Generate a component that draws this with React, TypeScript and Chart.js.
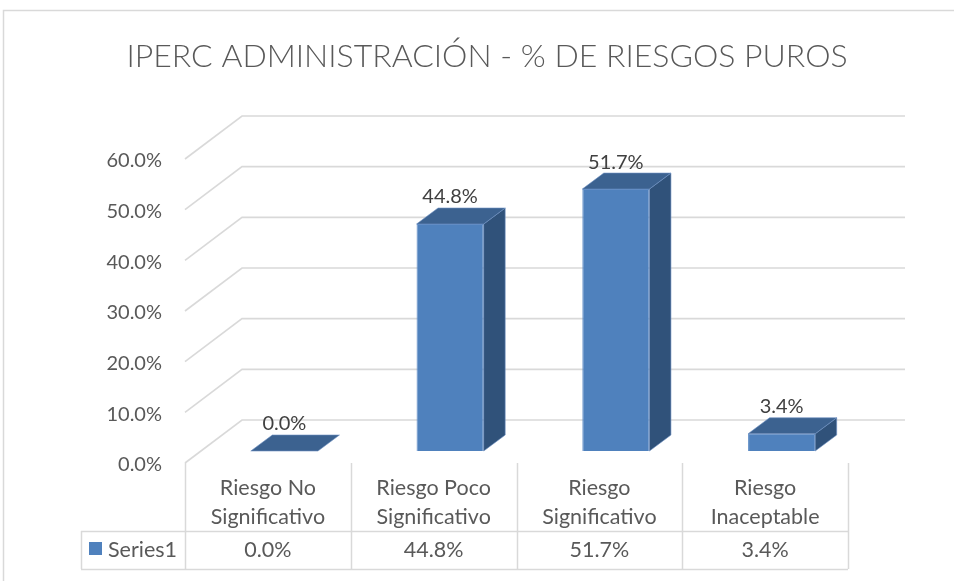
import React, { useEffect, useRef } from "react";
import { Chart, registerables } from "chart.js";

Chart.register(...registerables);

const titleText = "IPERC ADMINISTRACIÓN - % DE RIESGOS PUROS";
const categories: string[][] = [
  ["Riesgo No", "Significativo"],
  ["Riesgo Poco", "Significativo"],
  ["Riesgo", "Significativo"],
  ["Riesgo", "Inaceptable"],
];
const seriesName = "Series1";
const values = [0.0, 44.8, 51.7, 3.4];
const yTicks = [0, 10, 20, 30, 40, 50, 60];

const FONT = "Lato, 'Open Sans', 'DejaVu Sans', sans-serif";
const TEXT = "#595959";
const GRID = "#d9d9d9";
const FRONT = "#4F81BD";
const TOP = "#3C6290";
const SIDE = "#30527A";

// 3D geometry (oblique projection)
const WALL_DX = 57;
const WALL_DY = -43;
const BAR_OFF_DX = 16.5;
const BAR_OFF_DY = -12;
const BAR_DX = 21.5;
const BAR_DY = -16;

const fmt = (v: number) => v.toFixed(1) + "%";

const threeD = {
  id: "threeD",
  beforeDraw(chart: any) {
    const ctx = chart.ctx as CanvasRenderingContext2D;
    const ca = chart.chartArea;
    const ys = chart.scales.y;
    const xs = chart.scales.x;
    ctx.save();
    ctx.fillStyle = "#fff";
    ctx.fillRect(0, 0, chart.width, chart.height);
    ctx.strokeStyle = GRID;
    ctx.lineWidth = 1.5;
    ctx.strokeRect(3.5, 10.5, 1200, 800);

    // title
    ctx.fillStyle = TEXT;
    ctx.font = `300 32px ${FONT}`;
    ctx.textAlign = "center";
    ctx.textBaseline = "middle";
    ctx.fillText(titleText, 487, 57);

    // gridlines: side wall diagonals + back wall
    ctx.strokeStyle = GRID;
    ctx.lineWidth = 1.6;
    for (const v of yTicks) {
      const yF = ys.getPixelForValue(v);
      ctx.beginPath();
      ctx.moveTo(ca.left, yF);
      ctx.lineTo(ca.left + WALL_DX, yF + WALL_DY);
      ctx.lineTo(ca.right + WALL_DX, yF + WALL_DY);
      ctx.stroke();
    }

    // y tick labels
    ctx.font = `20px ${FONT}`;
    ctx.textAlign = "right";
    ctx.fillStyle = TEXT;
    for (const v of yTicks) {
      const yF = ys.getPixelForValue(v);
      ctx.fillText(fmt(v), ca.left - 23, yF + 2);
    }

    // data table
    const n = categories.length;
    const slot = (ca.right - ca.left) / n;
    const tableTop = ca.bottom;
    const rowY = ca.bottom + 68;
    const tableBottom = ca.bottom + 106;
    const legendLeft = 81;
    ctx.strokeStyle = GRID;
    ctx.lineWidth = 1.5;
    ctx.beginPath();
    for (let i = 0; i <= n; i++) {
      const xb = Math.round(ca.left + i * slot) + 0.5;
      ctx.moveTo(xb, tableTop);
      ctx.lineTo(xb, tableBottom);
    }
    ctx.moveTo(legendLeft + 0.5, rowY);
    ctx.lineTo(legendLeft + 0.5, tableBottom);
    ctx.moveTo(legendLeft, rowY + 0.5);
    ctx.lineTo(ca.right, rowY + 0.5);
    ctx.moveTo(legendLeft, tableBottom + 0.5);
    ctx.lineTo(ca.right, tableBottom + 0.5);
    ctx.stroke();

    ctx.font = `21.5px ${FONT}`;
    ctx.textAlign = "center";
    ctx.fillStyle = TEXT;
    categories.forEach((lines, i) => {
      const cx = xs.getPixelForValue(i);
      lines.forEach((ln, j) => {
        ctx.fillText(ln, cx, ca.bottom + 25 + j * 29);
      });
      ctx.fillText(fmt(values[i]), cx, rowY + 19);
    });
    ctx.fillStyle = FRONT;
    ctx.fillRect(89, rowY + 11, 13, 13);
    ctx.fillStyle = TEXT;
    ctx.textAlign = "left";
    ctx.fillText(seriesName, 108, rowY + 19);
    ctx.restore();
  },
  beforeDatasetsDraw(chart: any) {
    chart.ctx.save();
    chart.ctx.translate(BAR_OFF_DX, BAR_OFF_DY);
  },
  afterDatasetsDraw(chart: any) {
    const ctx = chart.ctx as CanvasRenderingContext2D;
    const meta = chart.getDatasetMeta(0);
    meta.data.forEach((el: any) => {
      const p = el.getProps(["x", "y", "base", "width"], true);
      const l = p.x - p.width / 2;
      const r = p.x + p.width / 2;
      const t = Math.min(p.y, p.base);
      const b = Math.max(p.y, p.base);
      // side face
      if (b - t > 0.5) {
        ctx.beginPath();
        ctx.moveTo(r, t);
        ctx.lineTo(r + BAR_DX, t + BAR_DY);
        ctx.lineTo(r + BAR_DX, b + BAR_DY);
        ctx.lineTo(r, b);
        ctx.closePath();
        ctx.fillStyle = SIDE;
        ctx.fill();
        ctx.strokeStyle = "rgba(110,145,195,0.6)";
        ctx.lineWidth = 1;
        ctx.stroke();
      }
      // top face
      ctx.beginPath();
      ctx.moveTo(l, t);
      ctx.lineTo(r, t);
      ctx.lineTo(r + BAR_DX, t + BAR_DY);
      ctx.lineTo(l + BAR_DX, t + BAR_DY);
      ctx.closePath();
      ctx.fillStyle = TOP;
      ctx.fill();
      ctx.strokeStyle = "rgba(110,145,195,0.6)";
      ctx.lineWidth = 1;
      ctx.stroke();
    });
    ctx.restore();

    // data labels
    ctx.save();
    ctx.font = `20px ${FONT}`;
    ctx.fillStyle = "#404040";
    ctx.textAlign = "center";
    ctx.textBaseline = "middle";
    meta.data.forEach((el: any, i: number) => {
      const p = el.getProps(["x", "y"], true);
      ctx.fillText(fmt(values[i]), p.x + BAR_OFF_DX, p.y + BAR_OFF_DY - 27);
    });
    ctx.restore();
  },
};

export default function App() {
  const ref = useRef<HTMLCanvasElement | null>(null);
  useEffect(() => {
    if (!ref.current) return;
    const chart = new Chart(ref.current, {
      type: "bar",
      data: {
        labels: categories,
        datasets: [
          {
            label: seriesName,
            data: values,
            backgroundColor: FRONT,
            borderColor: "#5E8CC6",
            borderWidth: 1,
            barPercentage: 0.405,
            categoryPercentage: 1,
          },
        ],
      },
      options: {
        animation: false,
        responsive: false,
        devicePixelRatio: 1,
        layout: { padding: { left: 185, right: 106, top: 159, bottom: 118 } },
        plugins: { legend: { display: false }, tooltip: { enabled: false }, title: { display: false } },
        scales: {
          x: { display: false, offset: true },
          y: { display: false, min: 0, max: 60 },
        },
      },
      plugins: [threeD],
    });
    return () => chart.destroy();
  }, []);
  return (
    <div style={{ position: "absolute", left: 0, top: 0, width: 954, height: 581 }}>
      <canvas ref={ref} width={954} height={581} style={{ display: "block" }} />
    </div>
  );
}
